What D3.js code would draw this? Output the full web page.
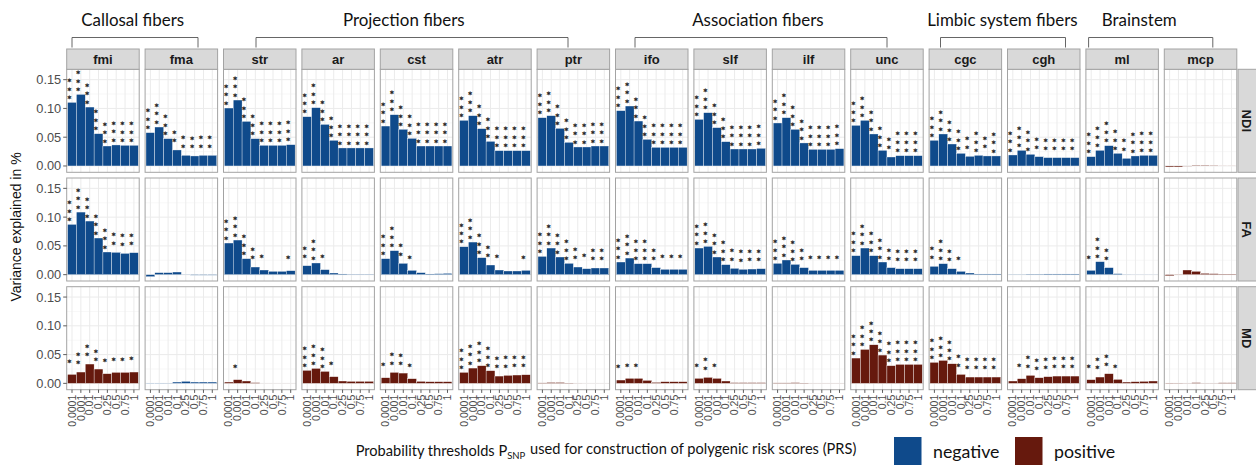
<!DOCTYPE html>
<html><head><meta charset="utf-8">
<script src="https://cdn.jsdelivr.net/npm/d3@7"></script>
<style>html,body{margin:0;padding:0;background:#fff;} svg{display:block;}</style>
</head><body>
<svg id="c" width="1256" height="465"></svg>
<script>
// ---------- DATA ----------
const tracts = ["fmi","fma","str","ar","cst","atr","ptr","ifo","slf","ilf","unc","cgc","cgh","ml","mcp"];
const measures = ["NDI","FA","MD"];
const thresholds = ["0.0001","0.001","0.01","0.1","0.25","0.5","0.75","1"];
const yTicks = [0, 0.05, 0.10, 0.15];
const yMinorTicks = [0.025, 0.075, 0.125];
const signLabels = ["negative","positive"];
const groupLabels = ["Callosal fibers","Projection fibers","Association fibers","Limbic system fibers","Brainstem"];

const ndiValues = [
  [0.1105,0.1244,0.1024,0.0561,0.0347,0.0365,0.0359,0.0359],
  [0.0579,0.0677,0.0475,0.0278,0.0185,0.0174,0.0185,0.0185],
  [0.1007,0.1146,0.0775,0.0475,0.0359,0.0359,0.0359,0.0370],
  [0.0856,0.1013,0.0723,0.0446,0.0313,0.0313,0.0313,0.0313],
  [0.0694,0.0891,0.0637,0.0480,0.0347,0.0347,0.0347,0.0347],
  [0.0793,0.0874,0.0648,0.0428,0.0266,0.0266,0.0266,0.0266],
  [0.0839,0.0874,0.0654,0.0411,0.0330,0.0330,0.0347,0.0347],
  [0.0961,0.1042,0.0781,0.0463,0.0324,0.0324,0.0324,0.0324],
  [0.0810,0.0926,0.0666,0.0422,0.0295,0.0295,0.0295,0.0307],
  [0.0747,0.0839,0.0637,0.0400,0.0289,0.0289,0.0289,0.0301],
  [0.0706,0.0793,0.0556,0.0272,0.0156,0.0179,0.0179,0.0179],
  [0.0446,0.0556,0.0382,0.0220,0.0168,0.0185,0.0174,0.0174],
  [0.0191,0.0272,0.0203,0.0162,0.0145,0.0145,0.0145,0.0145],
  [0.0162,0.0272,0.0353,0.0220,0.0133,0.0174,0.0185,0.0185],
  [-0.0018,-0.0018,-0.0004,0.0012,0.0012,0.0008,0.0003,0.0003]
];
const faValues = [
  [0.0874,0.1088,0.0932,0.0637,0.0394,0.0388,0.0370,0.0382],
  [-0.0035,0.0035,0.0035,0.0046,0.0003,-0.0009,-0.0009,-0.0009],
  [0.0550,0.0602,0.0278,0.0133,0.0081,0.0058,0.0058,0.0069],
  [0.0156,0.0203,0.0087,0.0029,0.0012,0.0006,0.0006,0.0006],
  [0.0278,0.0417,0.0197,0.0075,0.0035,0.0012,0.0017,0.0023],
  [0.0486,0.0567,0.0295,0.0168,0.0081,0.0064,0.0064,0.0075],
  [0.0318,0.0463,0.0307,0.0197,0.0133,0.0104,0.0116,0.0116],
  [0.0220,0.0289,0.0191,0.0191,0.0122,0.0093,0.0093,0.0093],
  [0.0463,0.0492,0.0307,0.0174,0.0110,0.0093,0.0098,0.0104],
  [0.0197,0.0255,0.0179,0.0122,0.0075,0.0075,0.0075,0.0075],
  [0.0330,0.0463,0.0330,0.0220,0.0122,0.0104,0.0104,0.0104],
  [0.0145,0.0191,0.0104,0.0058,0.0029,0.0012,0.0012,0.0012],
  [0.0004,0.0004,0.0008,0.0008,0.0012,0.0012,0.0012,0.0012],
  [0.0075,0.0226,0.0122,0.0017,0.0003,0.0002,0.0002,0.0002],
  [-0.0020,-0.0006,0.0081,0.0058,0.0023,0.0017,0.0009,0.0009]
];
const mdValues = [
  [0.0156,0.0197,0.0336,0.0249,0.0168,0.0191,0.0191,0.0197],
  [-0.0009,-0.0009,0.0004,0.0023,0.0035,0.0023,0.0023,0.0023],
  [0.0023,0.0064,0.0041,0.0012,0.0001,0.0001,0.0001,0.0001],
  [0.0226,0.0260,0.0208,0.0116,0.0041,0.0035,0.0035,0.0035],
  [0.0098,0.0191,0.0179,0.0081,0.0035,0.0029,0.0029,0.0029],
  [0.0191,0.0266,0.0307,0.0220,0.0127,0.0139,0.0145,0.0150],
  [0.0008,0.0015,0.0015,0.0006,0.0002,0.0001,0.0001,0.0001],
  [0.0058,0.0087,0.0087,0.0052,0.0017,0.0029,0.0029,0.0029],
  [0.0087,0.0104,0.0087,0.0041,0.0012,0.0012,0.0012,0.0012],
  [0.0008,0.0008,0.0012,0.0006,0.0002,0.0002,0.0002,0.0002],
  [0.0440,0.0590,0.0671,0.0492,0.0307,0.0330,0.0330,0.0330],
  [0.0365,0.0399,0.0341,0.0156,0.0110,0.0110,0.0110,0.0110],
  [0.0041,0.0081,0.0139,0.0098,0.0116,0.0127,0.0127,0.0127],
  [0.0064,0.0110,0.0168,0.0069,0.0023,0.0029,0.0035,0.0041],
  [-0.0010,-0.0005,0.0003,0.0012,0.0003,0.0003,0.0010,0.0010]
];

const ndiStars = [
  [3,3,3,3,3,3,3,3],[3,3,3,2,2,2,2,2],[3,3,3,3,3,3,3,3],[3,3,3,3,3,3,3,3],
  [3,3,3,3,3,3,3,3],[3,3,3,3,3,3,3,3],[3,3,3,3,3,3,3,3],[3,3,3,3,3,3,3,3],
  [3,3,3,3,3,3,3,3],[3,3,3,3,3,3,3,3],[3,3,3,3,2,3,3,3],[3,3,3,3,2,3,2,3],
  [3,3,3,2,2,2,2,2],[3,3,3,3,2,3,3,3],[0,0,0,0,0,0,0,0]
];
const faStars = [
  [3,3,3,3,3,2,2,2],[0,0,0,0,0,0,0,0],[3,3,3,2,1,0,0,1],[2,3,1,0,0,0,0,0],
  [3,3,2,1,0,0,0,0],[3,3,3,2,1,0,0,1],[3,3,3,3,2,1,2,2],[3,3,3,3,2,1,1,1],
  [3,3,3,3,2,2,2,2],[3,3,3,2,1,1,1,1],[3,3,3,3,2,2,2,2],[2,3,2,1,0,0,0,0],
  [0,0,0,0,0,0,0,0],[1,3,2,0,0,0,0,0],[0,0,0,0,0,0,0,0]
];
const mdStars = [
  [1,2,2,2,1,1,1,1],[0,0,0,0,0,0,0,0],[0,1,0,0,0,0,0,0],[3,3,3,1,0,0,0,0],
  [1,2,2,1,0,0,0,0],[3,3,3,3,2,2,2,2],[0,0,0,0,0,0,0,0],[1,1,1,0,0,0,0,0],
  [1,2,1,0,0,0,0,0],[0,0,0,0,0,0,0,0],[3,3,3,3,3,3,3,3],[3,3,3,2,2,2,2,2],
  [0,1,2,2,2,2,2,2],[1,2,2,1,0,0,0,0],[0,0,0,0,0,0,0,0]
];

const ndiSign = ["negative","negative","negative","negative","negative","negative","negative","negative","negative","negative","negative","negative","negative","negative","positive"];
const faSign  = ["negative","negative","negative","negative","negative","negative","negative","negative","negative","negative","negative","negative","negative","negative","positive"];
const mdSign  = ["positive","negative","positive","positive","positive","positive","positive","positive","positive","positive","positive","positive","positive","positive","positive"];

// ---------- LAYOUT ----------
const L = {x0:66.7, pitch:78.4, pw:72.5, stripTop:49, stripH:20.3, rowPitch:108.7, ph:103,
           rStripX:1238, rStripW:19};
const groupSpans = [[72,198,132.7],[256,568,403.8],[635,887,757.9],[940.5,1065.5,1002.4],[1088.6,1212.8,1139.3]];
const headerWidth = 103; // width of "Callosal fibers"
const SANS = "'Liberation Sans', Arial, Helvetica, sans-serif";
const HUM = "Lato, 'Open Sans', sans-serif";
const STARFONT = "'DejaVu Sans', sans-serif";

const color = d3.scaleOrdinal().domain(signLabels).range(["#0f4a8b","#66190d"]);
const svg = d3.select("#c");
const y = d3.scaleLinear().domain([-0.011, 0.168]).range([L.ph, 0]);
const x = d3.scaleBand().domain(thresholds).range([0, L.pw]).paddingInner(0).paddingOuter(0.1);

const valuesBy = [ndiValues, faValues, mdValues];
const starsBy = [ndiStars, faStars, mdStars];
const signBy = [ndiSign, faSign, mdSign];

const gridCol = "#ebebeb", minorCol = "#f4f4f4", borderCol = "#a3a3a3", stripFill = "#d9d9d9";
const starGap = 8.4, starSize = 7.1;

measures.forEach((m, r) => {
  const top = L.stripTop + L.stripH + r * L.rowPitch;
  tracts.forEach((t, c) => {
    const left = L.x0 + c * L.pitch;
    const g = svg.append("g").attr("transform", `translate(${left},${top})`);
    g.append("rect").attr("width", L.pw).attr("height", L.ph).attr("fill", "#fff");
    g.selectAll(".mn").data(yMinorTicks).join("line")
      .attr("x1", 0).attr("x2", L.pw).attr("y1", d => y(d)).attr("y2", d => y(d))
      .attr("stroke", minorCol).attr("stroke-width", 0.6);
    g.selectAll(".mj").data(yTicks).join("line")
      .attr("x1", 0).attr("x2", L.pw).attr("y1", d => y(d)).attr("y2", d => y(d))
      .attr("stroke", gridCol).attr("stroke-width", 1);
    g.selectAll(".vx").data(thresholds).join("line")
      .attr("x1", d => x(d) + x.bandwidth()/2).attr("x2", d => x(d) + x.bandwidth()/2)
      .attr("y1", 0).attr("y2", L.ph).attr("stroke", gridCol).attr("stroke-width", 1);
    const vals = valuesBy[r][c];
    const st = starsBy[r][c];
    const fill = color(signBy[r][c]);
    const data = thresholds.map((th, i) => ({th, v: vals[i], s: st[i]}));
    g.selectAll(".bar").data(data).join("rect")
      .attr("x", d => x(d.th)).attr("width", x.bandwidth())
      .attr("y", d => Math.min(y(d.v), y(0))).attr("height", d => Math.abs(y(d.v) - y(0)))
      .attr("fill", fill).attr("stroke", "#ffffff").attr("stroke-width", 0.35);
    // significance stars
    data.forEach(d => {
      if (!d.s) return;
      const cx = x(d.th) + x.bandwidth()/2 - 2.6;
      const cy = y(d.v) - 13.4;
      for (let k = 0; k < d.s; k++) {
        const yy = cy + (k - (d.s - 1) / 2) * starGap;
        g.append("text").attr("x", cx).attr("y", yy + 3.6).attr("text-anchor", "middle")
          .attr("font-family", STARFONT).attr("font-weight", "bold").attr("font-size", starSize)
          .attr("fill", "#1e1e1e").attr("stroke", "#1e1e1e").attr("stroke-width", 0.3)
          .text("*");
      }
    });
    g.append("rect").attr("width", L.pw).attr("height", L.ph).attr("fill", "none")
      .attr("stroke", borderCol).attr("stroke-width", 1);

    // top strips
    if (r === 0) {
      const s = svg.append("g").attr("transform", `translate(${left},${L.stripTop})`);
      s.append("rect").attr("width", L.pw).attr("height", L.stripH).attr("fill", stripFill)
        .attr("stroke", borderCol).attr("stroke-width", 1);
      s.append("text").attr("x", L.pw/2).attr("y", L.stripH/2).attr("dy", "0.36em")
        .attr("text-anchor", "middle").attr("font-family", SANS).attr("font-weight", "bold")
        .attr("font-size", 13).attr("fill", "#1a1a1a").text(t);
    }
    // x axis
    if (r === measures.length - 1) {
      const ax = svg.append("g").attr("transform", `translate(${left},${top + L.ph})`);
      thresholds.forEach(th => {
        const cx = x(th) + x.bandwidth()/2;
        ax.append("line").attr("x1", cx).attr("x2", cx).attr("y1", 0).attr("y2", 3.2)
          .attr("stroke", "#333").attr("stroke-width", 0.8);
        ax.append("text").attr("transform", `translate(${cx},${5}) rotate(-90)`)
          .attr("text-anchor", "end").attr("dy", "0.35em").attr("font-family", SANS)
          .attr("font-size", 10.5).attr("fill", "#4d4d4d").text(th);
      });
    }
    // y axis
    if (c === 0) {
      yTicks.forEach(v => {
        svg.append("line").attr("x1", left - 3.5).attr("x2", left).attr("y1", top + y(v)).attr("y2", top + y(v))
          .attr("stroke", "#333").attr("stroke-width", 0.8);
        svg.append("text").attr("x", left - 5.5).attr("y", top + y(v)).attr("dy", "0.35em")
          .attr("text-anchor", "end").attr("font-family", SANS).attr("font-size", 12.8)
          .attr("fill", "#4d4d4d").text(d3.format(".2f")(v));
      });
    }
  });
  // right strip
  const rs = svg.append("g").attr("transform", `translate(${L.rStripX},${top})`);
  rs.append("rect").attr("width", L.rStripW).attr("height", L.ph).attr("fill", stripFill)
    .attr("stroke", borderCol).attr("stroke-width", 1);
  rs.append("text").attr("transform", `translate(${9},${L.ph/2}) rotate(90)`)
    .attr("text-anchor", "middle").attr("dy", "0.36em").attr("font-family", SANS)
    .attr("font-weight", "bold").attr("font-size", 13).attr("fill", "#1a1a1a").text(m);
});

// y title
svg.append("text").attr("transform", "translate(16,227) rotate(-90)").attr("text-anchor", "middle")
  .attr("dy", "0.35em").attr("font-family", SANS).attr("font-size", 14).attr("fill", "#111")
  .text("Variance explained in %");

// group headers
const probe = svg.append("text").attr("font-family", HUM).attr("font-size", 100).text(groupLabels[0]);
const hSize = headerWidth / probe.node().getComputedTextLength() * 100;
probe.remove();
groupLabels.forEach((lab, i) => {
  const [a, b, cx] = groupSpans[i];
  svg.append("path").attr("d", `M${a},47.5V37.5H${b}V47.5`).attr("fill", "none")
    .attr("stroke", "#555").attr("stroke-width", 0.9);
  svg.append("text").attr("x", cx).attr("y", 26).attr("text-anchor", "middle")
    .attr("font-family", HUM).attr("font-size", hSize).attr("fill", "#111").text(lab);
});

// x title
const xt = svg.append("text").attr("x", 606).attr("y", 456).attr("text-anchor", "middle")
  .attr("font-family", HUM).attr("font-size", 16).attr("fill", "#111");
xt.append("tspan").text("Probability thresholds P");
xt.append("tspan").attr("font-size", "65%").attr("dy", "0.3em").text("SNP");
xt.append("tspan").attr("dy", "-0.3em").attr("dx", "1").text(" used for construction of polygenic risk scores (PRS)");
const xtw = xt.node().getComputedTextLength();
xt.attr("font-size", 16 * 500 / xtw);

// legend
const legX = [894, 1015];
signLabels.forEach((s, i) => {
  svg.append("rect").attr("x", legX[i]).attr("y", 437).attr("width", 27.5).attr("height", 28)
    .attr("fill", color(s));
  svg.append("text").attr("x", legX[i] + 39).attr("y", 458).attr("font-family", HUM)
    .attr("font-size", hSize * 1.05).attr("fill", "#111").text(s);
});
</script>
</body></html>
